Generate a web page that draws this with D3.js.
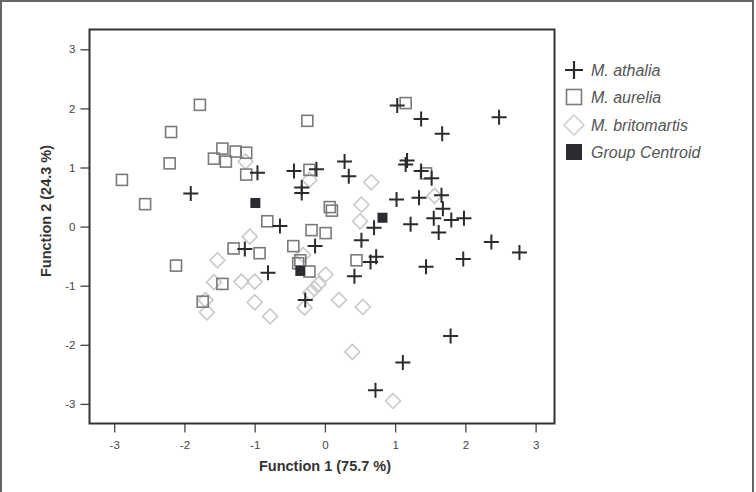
<!DOCTYPE html>
<html><head><meta charset="utf-8">
<script src="https://cdnjs.cloudflare.com/ajax/libs/d3/7.8.5/d3.min.js"></script>
<style>body{margin:0;background:#fff}svg{display:block}</style>
</head><body>
<svg id="c" width="756" height="492"></svg>
<script>
const athalia = [[-1.91,0.56],[-0.96,0.91],[-0.44,0.94],[-0.12,0.97],[-0.33,0.66],[-0.33,0.57],[0.28,1.10],[0.34,0.85],[1.03,2.05],[1.37,1.82],[2.48,1.85],[1.67,1.57],[1.17,1.12],[1.15,1.05],[1.37,0.94],[1.52,0.82],[1.02,0.46],[1.34,0.49],[1.66,0.53],[1.68,0.30],[1.55,0.14],[1.80,0.11],[1.98,0.14],[1.22,0.04],[1.62,-0.10],[0.70,-0.02],[0.52,-0.23],[-0.64,0.01],[-1.14,-0.38],[-0.14,-0.33],[-0.81,-0.78],[0.73,-0.51],[0.65,-0.60],[0.42,-0.84],[-0.28,-1.24],[2.37,-0.26],[2.77,-0.44],[1.97,-0.55],[1.44,-0.68],[1.79,-1.85],[1.11,-2.30],[0.72,-2.77]];
const aurelia = [[-1.78,2.06],[-2.19,1.60],[-0.25,1.79],[-2.21,1.07],[-2.89,0.79],[-2.56,0.38],[-1.46,1.32],[-1.27,1.27],[-1.12,1.25],[-1.58,1.15],[-1.41,1.10],[-1.12,0.88],[-0.22,0.96],[1.15,2.09],[1.44,0.90],[0.07,0.33],[0.10,0.27],[-0.82,0.09],[-0.19,-0.06],[0.01,-0.11],[-1.30,-0.37],[-0.93,-0.45],[-0.45,-0.33],[-2.12,-0.66],[-0.38,-0.62],[-0.35,-0.57],[-0.22,-0.76],[-1.46,-0.97],[-1.74,-1.27],[0.45,-0.57]];
const britomartis = [[-1.13,1.10],[-0.22,0.79],[0.66,0.75],[1.56,0.52],[0.52,0.37],[0.50,0.09],[-1.07,-0.17],[-1.53,-0.57],[-0.31,-0.48],[0.01,-0.81],[-0.09,-0.97],[-0.15,-1.05],[-0.21,-1.12],[-1.58,-0.94],[-1.19,-0.93],[-1.00,-0.93],[-1.70,-1.24],[-1.68,-1.45],[-1.00,-1.28],[-0.78,-1.52],[-0.29,-1.37],[0.20,-1.24],[0.54,-1.36],[0.39,-2.12],[0.97,-2.95]];
const centroids = [[-0.99,0.40],[-0.35,-0.75],[0.82,0.15]];
const ticks = [-3,-2,-1,0,1,2,3];
const tickLabels = ["-3","-2","-1","0","1","2","3"];
const legendLabels = ["M. athalia","M. aurelia","M. britomartis","Group Centroid"];
const xTitle = "Function 1 (75.7 %)";
const yTitle = "Function 2 (24.3 %)";

const svg = d3.select("#c");
const font = "'Liberation Sans', Arial, sans-serif";
// outer frame
svg.append("path").attr("d","M1,492 V1 H753 V492").attr("fill","none").attr("stroke","#666").attr("stroke-width",2);

const L=89.5, R=554.5, T=29.5, B=423.5;
const x = d3.scaleLinear().domain([-3,3]).range([114.2,535.6]);
const y = d3.scaleLinear().domain([-3,3]).range([403.9,49.3]);
const fmt = d => tickLabels[ticks.indexOf(d)];

const g = svg.append("g");
const xAxis = g.append("g").attr("transform",`translate(0,${B})`).call(d3.axisBottom(x).tickValues(ticks).tickSize(9).tickPadding(8).tickFormat(fmt));
const yAxis = g.append("g").attr("transform",`translate(${L},0)`).call(d3.axisLeft(y).tickValues(ticks).tickSize(9).tickPadding(5).tickFormat(fmt));
[xAxis,yAxis].forEach(a=>{
  a.select(".domain").remove();
  a.selectAll(".tick line").attr("stroke","#444").attr("stroke-width",1.3);
  a.selectAll(".tick text").attr("fill","#444").style("font-family",font).style("font-size","11.5px");
});

svg.append("text").attr("x",325).attr("y",471).attr("text-anchor","middle")
  .style("font-family",font).style("font-size","14.5px").style("font-weight","bold").attr("fill","#333").text(xTitle);
svg.append("text").attr("transform","translate(51,211) rotate(-90)").attr("text-anchor","middle")
  .style("font-family",font).style("font-size","14.5px").style("font-weight","bold").attr("fill","#333").text(yTitle);

// markers
const pg = svg.append("g");
pg.selectAll(".dia").data(britomartis).join("path").attr("class","dia")
  .attr("d",d=>{const cx=x(d[0]),cy=y(d[1]),r=7.5;return `M${cx},${cy-r}L${cx+r},${cy}L${cx},${cy+r}L${cx-r},${cy}Z`;})
  .attr("fill","none").attr("stroke","#c9c9c9").attr("stroke-width",1.6);
pg.selectAll(".sq").data(aurelia).join("rect").attr("class","sq")
  .attr("x",d=>x(d[0])-5.5).attr("y",d=>y(d[1])-5.5).attr("width",11).attr("height",11)
  .attr("fill","none").attr("stroke","#7a7a7a").attr("stroke-width",1.6);
pg.selectAll(".cr").data(athalia).join("path").attr("class","cr")
  .attr("d",d=>{const cx=x(d[0]),cy=y(d[1]),r=7.5;return `M${cx-r},${cy}H${cx+r}M${cx},${cy-r}V${cy+r}`;})
  .attr("fill","none").attr("stroke","#2b2b2b").attr("stroke-width",2);
pg.selectAll(".ce").data(centroids).join("rect").attr("class","ce")
  .attr("x",d=>x(d[0])-5).attr("y",d=>y(d[1])-5).attr("width",10).attr("height",10)
  .attr("fill","#2b2b30");

// plot box
svg.append("rect").attr("x",L).attr("y",T).attr("width",R-L).attr("height",B-T)
  .attr("fill","none").attr("stroke","#333").attr("stroke-width",2);

// legend
const lg = svg.append("g");
const ly = [70,97,125,152];
legendLabels.forEach((lab,i)=>{
  const cx=574, cy=ly[i];
  if(i===0) lg.append("path").attr("d",`M${cx-9},${cy}H${cx+9}M${cx},${cy-9}V${cy+9}`).attr("stroke","#2b2b2b").attr("stroke-width",2.2);
  if(i===1) lg.append("rect").attr("x",cx-7.5).attr("y",cy-7.5).attr("width",15).attr("height",15).attr("fill","none").attr("stroke","#7a7a7a").attr("stroke-width",1.6);
  if(i===2) lg.append("path").attr("d",`M${cx},${cy-10}L${cx+10},${cy}L${cx},${cy+10}L${cx-10},${cy}Z`).attr("fill","none").attr("stroke","#d0d0d0").attr("stroke-width",1.6);
  if(i===3) lg.append("rect").attr("x",cx-8).attr("y",cy-8).attr("width",16).attr("height",16).attr("fill","#2b2b30");
  lg.append("text").attr("x",591).attr("y",cy+6).style("font-family",font).style("font-size","16px").style("font-style","italic").attr("fill","#555").text(lab);
});
</script>
</body></html>
